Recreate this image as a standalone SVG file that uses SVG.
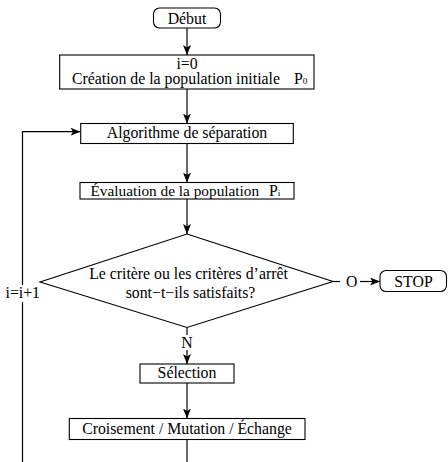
<svg xmlns="http://www.w3.org/2000/svg" width="448" height="462" viewBox="0 0 448 462">
<style>
text{font-family:"Liberation Serif","Times New Roman",serif;font-size:15.8px;fill:#000}
.m{text-anchor:middle}
.sub{font-size:9px}
.box{fill:#fff;stroke:#000;stroke-width:1.1}
.ln{fill:none;stroke:#000;stroke-width:1.2}
</style>
<defs>
<marker id="ah" viewBox="0 0 10 8" refX="10" refY="4" markerWidth="10" markerHeight="8" markerUnits="userSpaceOnUse" orient="auto">
<path d="M0,0 L10,4 L0,8 L2.5,4 z" fill="#000"/>
</marker>
</defs>
<g id="connectors">
<line class="ln" x1="187" y1="28" x2="187" y2="55" marker-end="url(#ah)"/>
<line class="ln" x1="187" y1="89" x2="187" y2="123.5" marker-end="url(#ah)"/>
<line class="ln" x1="187" y1="143.5" x2="187" y2="182.5" marker-end="url(#ah)"/>
<line class="ln" x1="187" y1="199" x2="187" y2="234" marker-end="url(#ah)"/>
<line class="ln" x1="333" y1="281.5" x2="340" y2="281.5"/>
<text x="346" y="287">O</text>
<line class="ln" x1="360" y1="281.5" x2="380" y2="281.5" marker-end="url(#ah)"/>
<line class="ln" x1="187" y1="327.5" x2="187" y2="335"/>
<text class="m" x="187" y="347.5">N</text>
<line class="ln" x1="187" y1="350" x2="187" y2="364" marker-end="url(#ah)"/>
<line class="ln" x1="187" y1="383" x2="187" y2="418.5" marker-end="url(#ah)"/>
<line class="ln" x1="187" y1="439.5" x2="187" y2="462"/>
<line class="ln" x1="22.5" y1="462" x2="22.5" y2="302"/>
<text x="5.5" y="298">i=i+1</text>
<polyline class="ln" points="22.5,285 22.5,131.7 80.5,131.7" marker-end="url(#ah)"/>
</g>
<g id="debut">
<rect class="box" x="153.5" y="8" width="67" height="20" rx="6"/>
<text class="m" x="187" y="24">Début</text>
</g>
<g id="init">
<rect class="box" x="59.7" y="55" width="254.3" height="34"/>
<text class="m" x="187" y="68.5">i=0</text>
<text x="72" y="84">Création de la population initiale</text>
<text x="294" y="84">P<tspan class="sub">0</tspan></text>
</g>
<g id="separation">
<rect class="box" x="80.7" y="123.5" width="212.6" height="20"/>
<text class="m" x="187" y="138">Algorithme de séparation</text>
</g>
<g id="evaluation">
<rect class="box" x="80" y="182.5" width="214" height="16.5"/>
<text x="90.5" y="196" style="font-size:15.3px">Évaluation de la population</text>
<text x="269" y="196">P<tspan class="sub">i</tspan></text>
</g>
<g id="decision">
<polygon class="box" points="187,234 333,281.5 187,327.5 40,282"/>
<text class="m" x="188.5" y="279">Le critère ou les critères d’arrêt</text>
<text class="m" x="190.5" y="298">sont−t−ils satisfaits?</text>
</g>
<g id="stop">
<rect class="box" x="380" y="270.5" width="66.5" height="21" rx="6"/>
<text class="m" x="413.5" y="287">STOP</text>
</g>
<g id="selection">
<rect class="box" x="140" y="364" width="94" height="19"/>
<text class="m" x="187" y="378">Sélection</text>
</g>
<g id="croisement">
<rect class="box" x="69.3" y="418.5" width="235.7" height="21"/>
<text class="m" x="187" y="433.5">Croisement / Mutation / Échange</text>
</g>
</svg>
